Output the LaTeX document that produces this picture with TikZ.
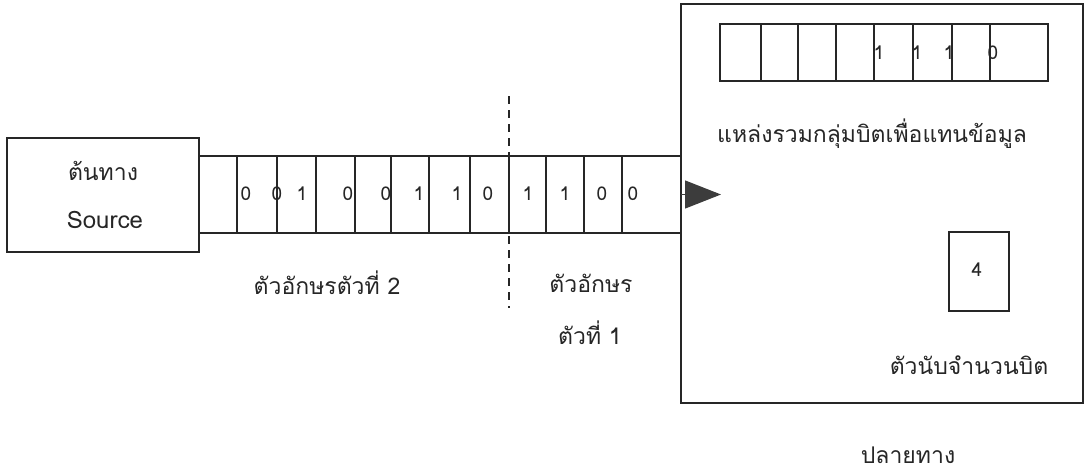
\documentclass[tikz,border=0pt]{standalone}
\usepackage{fontspec}
\setmainfont{Loma}[Script=Thai]
\usetikzlibrary{arrows.meta}
\definecolor{ink}{HTML}{262626}
\tikzset{
  box/.style={draw=ink, line width=1.3pt, rectangle, inner sep=0pt, outer sep=0pt},
  lbl/.style={font=\fontsize{23}{26}\selectfont, text=ink, inner sep=0pt},
  digit/.style={font=\fontsize{19}{22}\selectfont, text=ink, inner sep=0pt},
  flow/.style={draw=ink, line width=1.3pt, -{Triangle[length=36pt,width=28pt]}, color=ink!90},
  divider/.style={draw=ink, line width=1.2pt, dash pattern=on 8pt off 6pt}
}
\begin{document}
\begin{tikzpicture}[x=1pt,y=-1pt]
\useasboundingbox (0,0) rectangle (1085,474);
% source
\node[box, minimum width=192pt, minimum height=114pt] (src) at (103,195) {};
\node[lbl] (srcth) at (103,171) {ต้นทาง};
\node[lbl, font=\fontsize{24}{26}\selectfont] (srcen) at (105,220) {Source};
% tape
\foreach \a/\b [count=\i] in {199/237,237/277,277/316,316/355,355/391,391/429,429/470,470/509,509/546,546/584,584/622,622/681}{
  \pgfmathsetmacro\w{\b-\a}
  \node[box, minimum width=\w pt, minimum height=77pt] (c\i) at ({(\a+\b)/2},194.5) {};
}
\draw[ink, line width=2.4pt] (c4.north east) -- (c4.south east);
\foreach \x/\d [count=\i] in {246/0,277/0,302/1,348/0,386/0,419/1,457/1,488/0,528/1,565/1,602/0,633/0}{
  \node[digit] (d\i) at (\x,194) {\d};
}
% divider
\coordinate (dvtop) at (509,96);
\coordinate (dvbot) at (509,308);
\draw[divider] (dvtop) -- (dvbot);
\node[lbl] (ch2) at (327,283) {ตัวอักษรตัวที่ 2};
\node[lbl] (ch1a) at (591,283) {ตัวอักษร};
\node[lbl] (ch1b) at (590,333) {ตัวที่ 1};
% destination
\node[box, minimum width=402pt, minimum height=399pt] (dest) at (882,203.5) {};
\foreach \a/\b [count=\i] in {720/761,761/798,798/836,836/874,874/913,913/952,952/990,990/1048}{
  \pgfmathsetmacro\w{\b-\a}
  \node[box, minimum width=\w pt, minimum height=57pt] (r\i) at ({(\a+\b)/2},52.5) {};
}
\foreach \x/\d [count=\i] in {879/1,917/1,949/1,993/0}{
  \node[digit] (rd\i) at (\x,53) {\d};
}
\node[lbl, anchor=west] (pool) at (717,134) {แหล่งรวมกลุ่มบิตเพื่อแทนข้อมูล};
\node[box, minimum width=60pt, minimum height=79pt] (cnt) at (979,271.5) {};
\node[digit] (cntv) at (977,270) {4};
\node[lbl] (cntl) at (969,365) {ตัวนับจำนวนบิต};
\node[lbl] (dstl) at (908,455) {ปลายทาง};
% arrow
\coordinate (tip) at (721,194.5);
\draw[flow] (c12.east) -- (tip);
\end{tikzpicture}
\end{document}
